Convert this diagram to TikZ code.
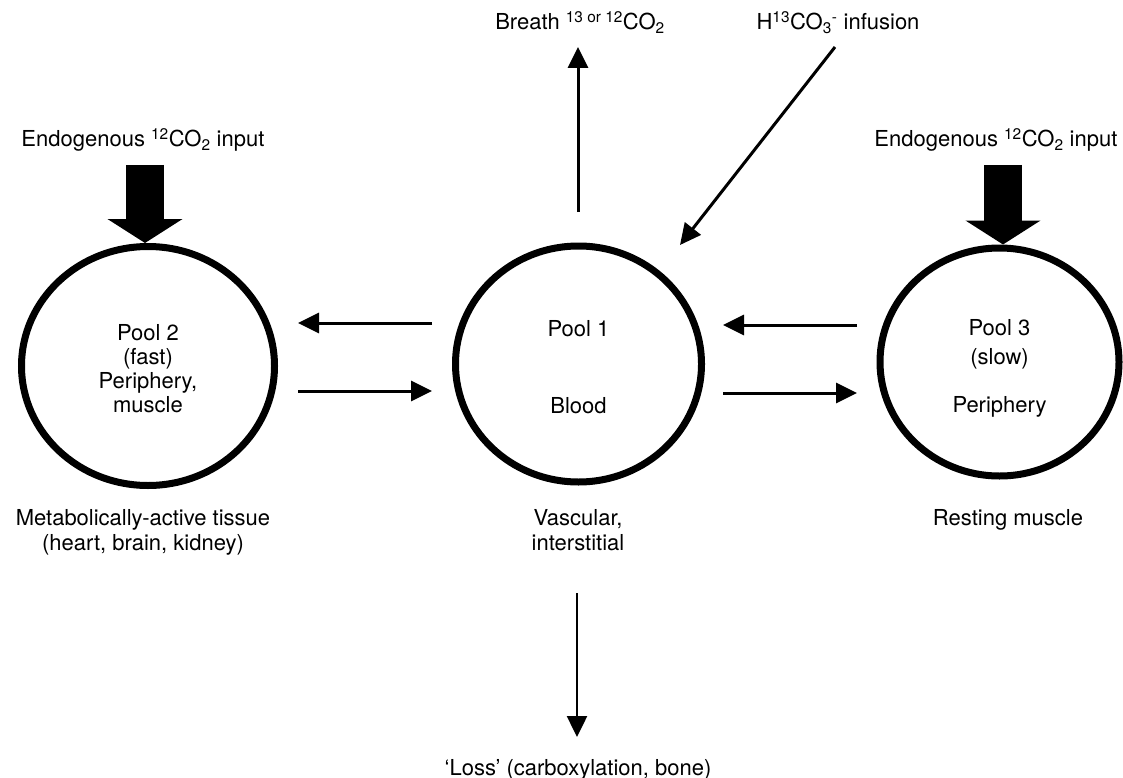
\documentclass[tikz,border=0pt]{standalone}
\usepackage{fontspec}
\setmainfont{TeX Gyre Heros}
\usetikzlibrary{arrows.meta,shapes.geometric}
\begin{document}
\begin{tikzpicture}[x=1pt,y=-1pt,
  every node/.style={font=\fontsize{22}{25}\selectfont, inner sep=0pt},
  pool/.style={ellipse, draw, line width=7pt},
  intext/.style={align=center, font=\fontsize{22}{24}\selectfont},
  lbl/.style={align=center, anchor=base},
  arr/.style={line width=3pt, -{Triangle[width=20pt,length=21pt]}},
  bigarr/.style={line width=38pt, -{Triangle[width=74pt,length=24pt]}}]
\useasboundingbox (0,0) rectangle (1123,778);

% pools
\node[pool, minimum width=253pt, minimum height=239pt] (p2) at (148,366) {};
\node[pool, minimum width=246pt, minimum height=236pt] (p1) at (578.5,364) {};
\node[pool, minimum width=239pt, minimum height=228pt] (p3) at (999.5,362) {};
\node[intext] (p2t) at ([yshift=-3pt]p2.center) {Pool 2\\(fast)\\Periphery,\\muscle};
\node[intext] (p1t) at ([yshift=-3pt]p1.center) {Pool 1\\[53pt]Blood};
\node[intext] (p3t) at ([yshift=-6pt]p3.center) {Pool 3\\[5pt](slow)\\[24pt]Periphery};

% top labels
\node[lbl] (endoL) at (143,147) {Endogenous \textsuperscript{12}CO\textsubscript{2} input};
\node[lbl] (endoR) at (996,147) {Endogenous \textsuperscript{12}CO\textsubscript{2} input};
\node[lbl] (breath) at (580,30) {Breath \textsuperscript{13 or 12}CO\textsubscript{2}};
\node[lbl] (inf) at (838,30) {H\textsuperscript{13}CO\textsubscript{3}\textsuperscript{-} infusion};

% bottom labels (base = last line)
\node[lbl] (metab) at (143,550) {Metabolically-active tissue\\(heart, brain, kidney)};
\node[lbl] (vasc) at (578,550) {Vascular,\\interstitial};
\node[lbl] (rest) at (1008,525) {Resting muscle};
\node[lbl] (loss) at (578,775) {‘Loss’ (carboxylation, bone)};

% connector end points
\coordinate (bS) at (578,212);
\coordinate (bE) at (578,47);
\coordinate (iS) at (835,47);
\coordinate (iE) at (680,245);
\coordinate (l1) at (432,323);
\coordinate (l2) at (298,323);
\coordinate (l3) at (298,391);
\coordinate (l4) at (432,391);
\coordinate (r1) at (857,325);
\coordinate (r2) at (723,325);
\coordinate (r3) at (723,393);
\coordinate (r4) at (857,393);
\coordinate (lS) at (577,593);
\coordinate (lE) at (577,737);
\coordinate (tL) at (145,165);
\coordinate (tR) at (1003,165);

% big input arrows
\draw[bigarr] (tL) -- (p2.north -| tL);
\draw[bigarr] (tR) -- (p3.north -| tR);

% thin arrows
\draw[arr] (bS) -- (bE);
\draw[arr] (iS) -- (iE);
\draw[arr] (l1) -- (l2);
\draw[arr] (l3) -- (l4);
\draw[arr] (r1) -- (r2);
\draw[arr] (r3) -- (r4);
\draw[arr, line width=2.5pt] (lS) -- (lE);
\end{tikzpicture}
\end{document}
